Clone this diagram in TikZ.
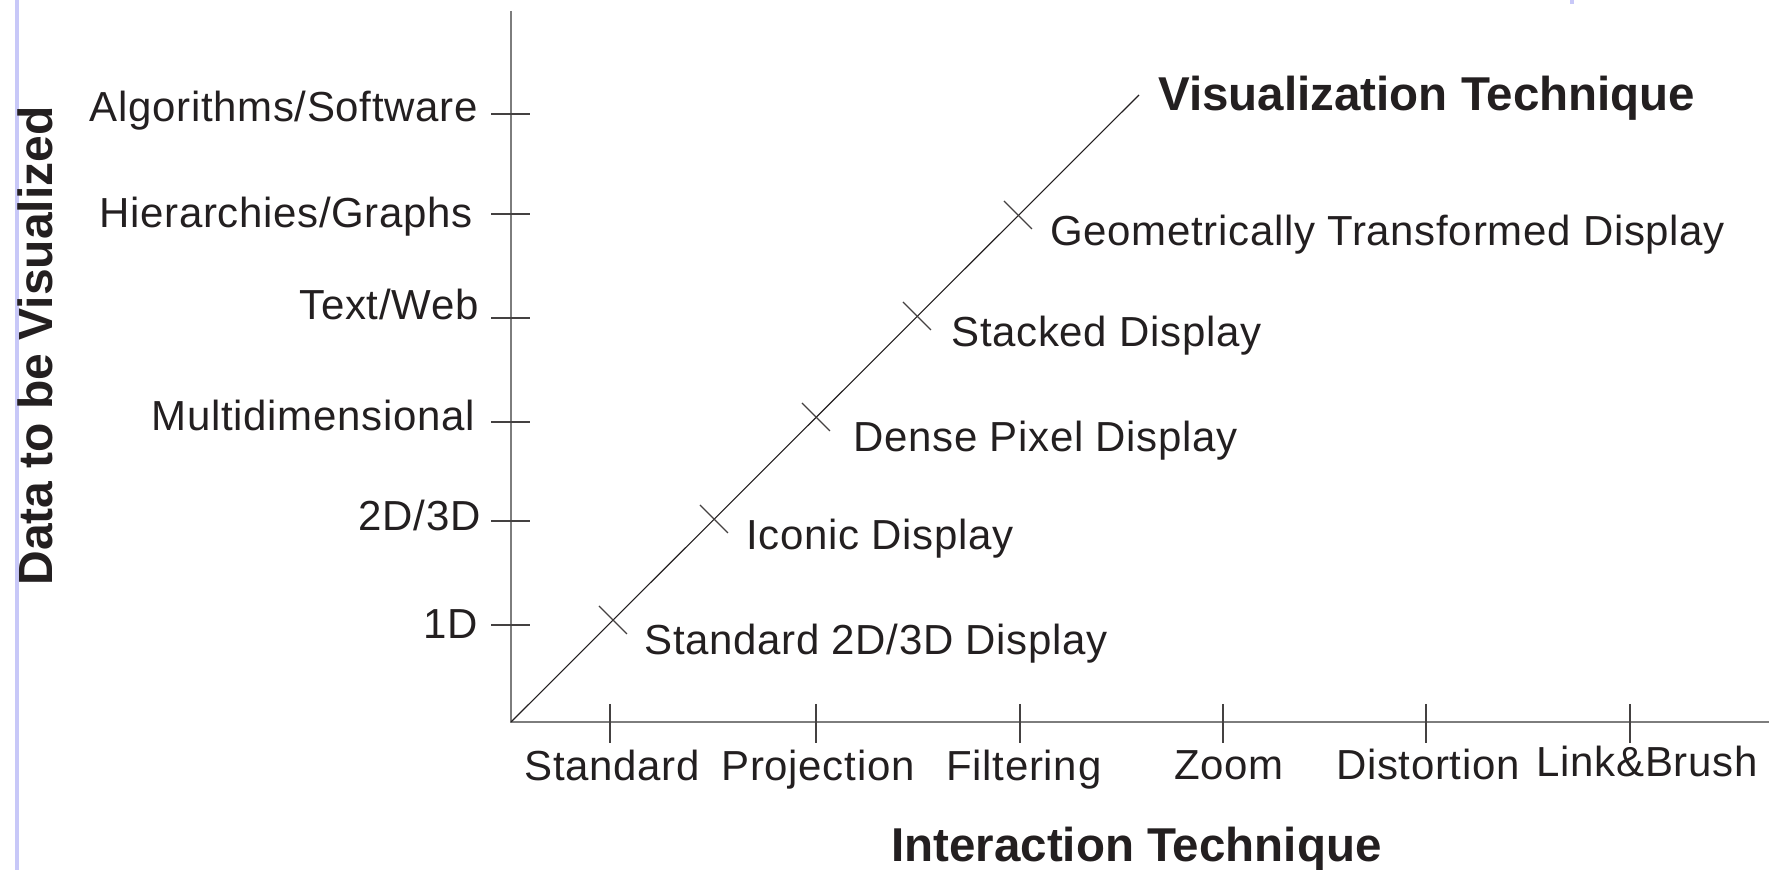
\documentclass[tikz,border=0pt]{standalone}
\usepackage{fontspec}
\setmainfont{Liberation Sans}
\newfontfamily\lblfont{Liberation Sans}[LetterSpace=1.6]
\definecolor{ink}{RGB}{35,31,32}
\definecolor{axisgray}{RGB}{125,125,125}
\definecolor{lav}{RGB}{200,200,248}
\begin{document}
\begin{tikzpicture}[x=0.5pt,y=-0.5pt,
  lbl/.style={font=\lblfont\fontsize{21}{25}\selectfont, text=ink, inner sep=0pt},
  ttl/.style={font=\fontsize{23.75}{28}\selectfont\bfseries, text=ink, inner sep=0pt},
  axisline/.style={draw=axisgray, line width=1pt},
  tickline/.style={draw=ink!85, line width=0.65pt},
  diagline/.style={draw=ink, line width=0.55pt}]
\useasboundingbox (0,0) rectangle (1769,870);
% page decorations
\fill[lav] (15,0) rectangle (19,870);
\fill[lav] (1570,0) rectangle (1574,4);
% axes
\coordinate (O) at (511,722);
\coordinate (Ytop) at (511,11);
\coordinate (Xend) at (1769,722);
\coordinate (Dend) at (1139,95);
\draw[axisline] (Ytop) -- (O) -- (Xend);
\draw[diagline] (O) -- (Dend);
% y ticks
\foreach \y/\n in {114/ya,214/yb,318/yc,422/yd,521/ye,625/yf}{
  \coordinate (\n l) at (491,\y);
  \coordinate (\n r) at (530,\y);
  \draw[tickline] (\n l) -- (\n r);
}
% x ticks
\foreach \x/\n in {610/xa,816/xb,1020/xc,1223/xd,1426/xe,1630/xf}{
  \coordinate (\n t) at (\x,704);
  \coordinate (\n b) at (\x,743);
  \draw[tickline] (\n t) -- (\n b);
}
% diagonal crosses
\foreach \x/\y/\n in {613/620/da,714/519/db,816/417/dc,917/316/dd,1018/215/de}{
  \coordinate (\n a) at ({\x-14},{\y-14});
  \coordinate (\n b) at ({\x+14},{\y+14});
  \draw[tickline] (\n a) -- (\n b);
}
% y labels
\node[lbl, anchor=base east] (lA) at (478,122) {Algorithms/Software};
\node[lbl, anchor=base east] (lH) at (473,228) {Hierarchies/Graphs};
\node[lbl, anchor=base east] (lT) at (479,320) {Text/Web};
\node[lbl, anchor=base east] (lM) at (475,431) {Multidimensional};
\node[lbl, anchor=base east] (l2) at (481,531) {2D/3D};
\node[lbl, anchor=base east] (l1) at (478,639) {1D};
% x labels
\node[lbl, anchor=base] (xS) at (612,781) {Standard};
\node[lbl, anchor=base] (xP) at (818,781) {Projection};
\node[lbl, anchor=base] (xF) at (1024,781) {Filtering};
\node[lbl, anchor=base] (xZ) at (1229,780) {Zoom};
\node[lbl, anchor=base] (xD) at (1428,780) {Distortion};
\node[lbl, anchor=base] (xL) at (1647,777) {Link\&Brush};
% diagonal labels
\node[lbl, anchor=base west] (dS) at (644,655) {Standard 2D/3D Display};
\node[lbl, anchor=base west] (dI) at (746,550) {Iconic Display};
\node[lbl, anchor=base west] (dD) at (853,452) {Dense Pixel Display};
\node[lbl, anchor=base west] (dSt) at (951,347) {Stacked Display};
\node[lbl, anchor=base west] (dG) at (1050,246) {Geometrically Transformed Display};
% titles
\node[ttl, anchor=base west] (tV) at (1158,111) {Visualization Technique};
\node[ttl, anchor=base west] (tI) at (891,862) {Interaction Technique};
\node[ttl, anchor=base, rotate=90, font=\fontsize{24}{28}\selectfont\bfseries] (tD) at (52,346) {Data to be Visualized};
\end{tikzpicture}
\end{document}
